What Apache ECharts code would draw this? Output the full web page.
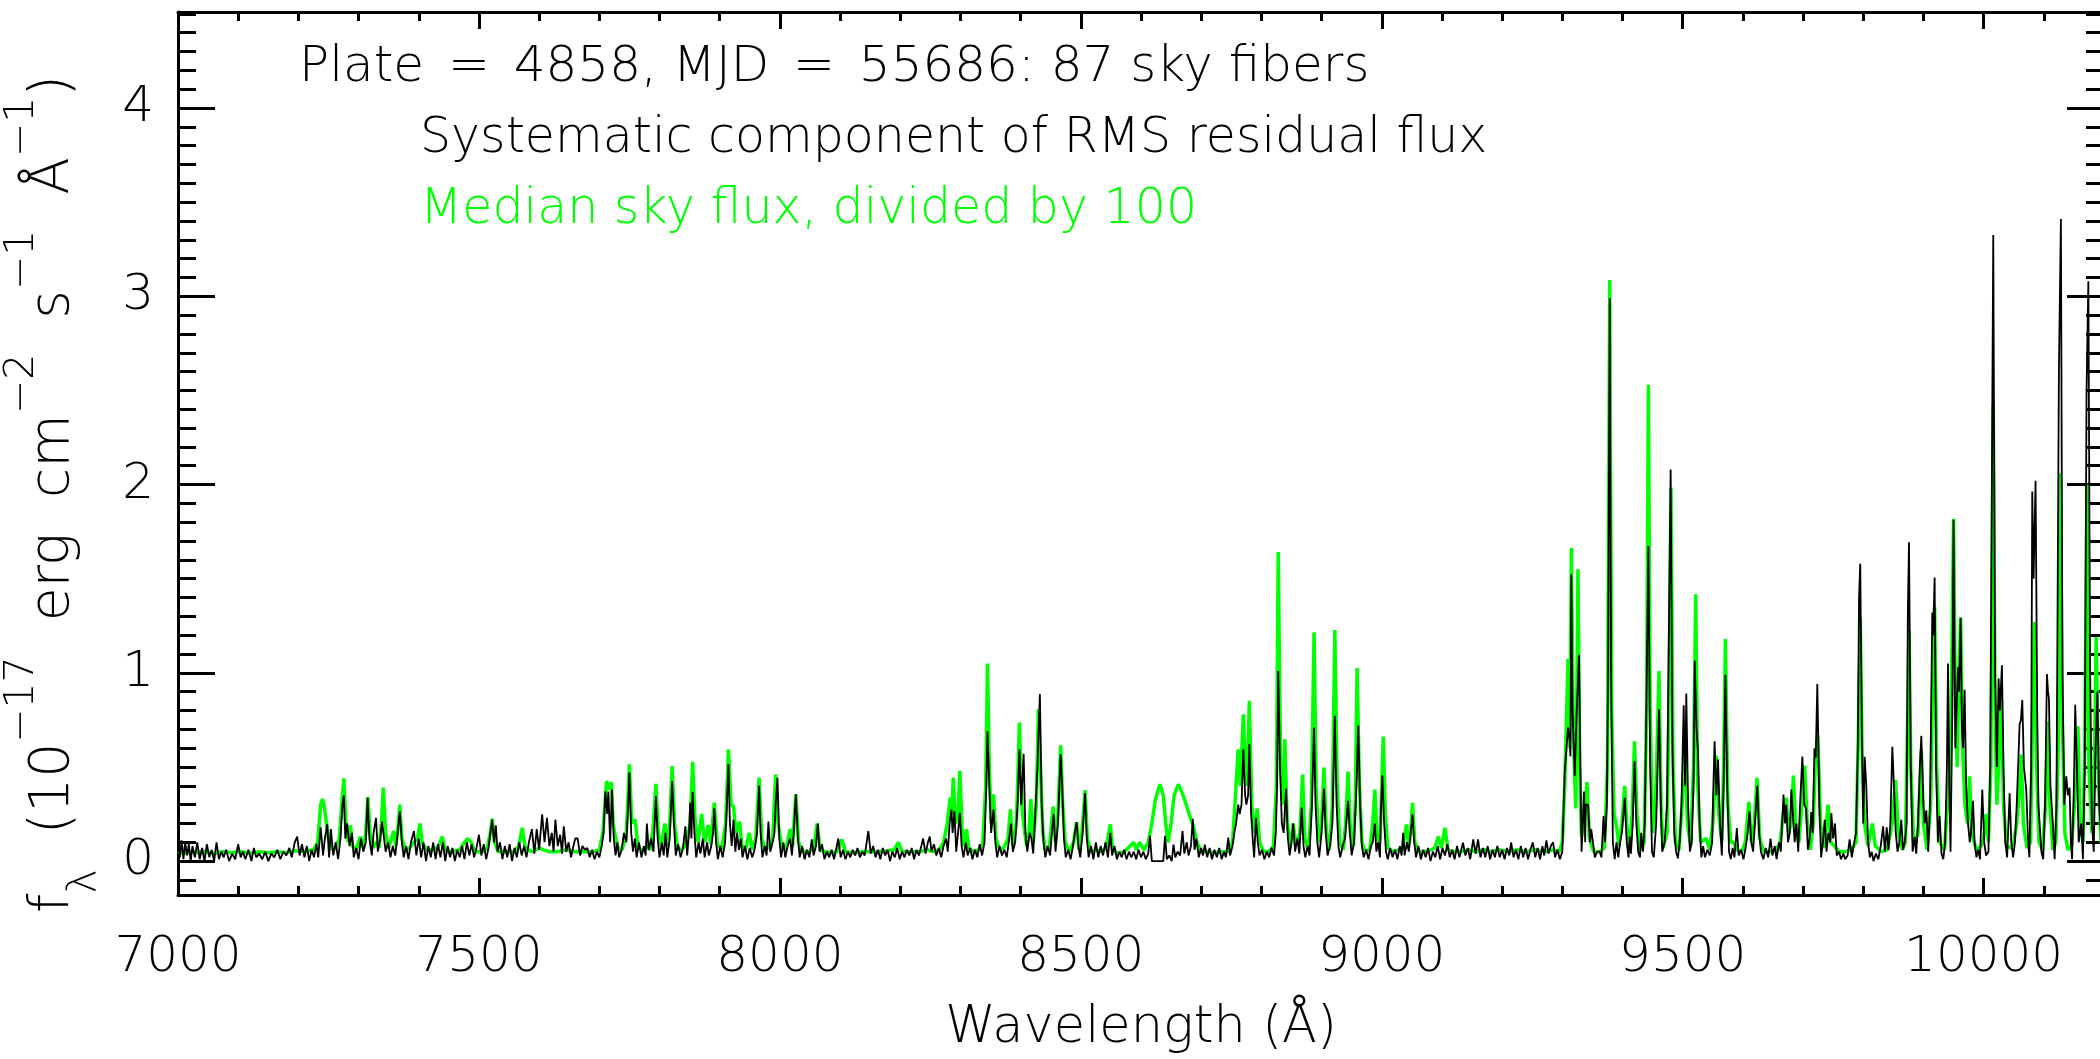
<!DOCTYPE html>
<html>
<head>
<meta charset="utf-8">
<title>Sky residuals, plate 4858</title>
<script src="https://cdn.jsdelivr.net/npm/echarts@6/dist/echarts.min.js"></script>
<style>
  html, body { margin: 0; padding: 0; background: #fff; }
  #chart { width: 2100px; height: 1059px; }
</style>
</head>
<body>
<div id="chart"></div>
<script>
// axis ranges and ticks
const X_MIN = 7000, X_MAX = 10200;
const Y_MIN = -0.18, Y_MAX = 4.51;
const xMajorTicks = [7000, 7500, 8000, 8500, 9000, 9500, 10000];
const yMajorTicks = [0, 1, 2, 3, 4];

// median sky flux / 100  [wavelength (A), flux]
const skyFlux = [
  [7000,0.05],[7010,0.04],[7020,0.05],[7030,0.045],[7045,0.05],[7060,0.04],[7075,0.05],[7090,0.045],[7105,0.05],[7120,0.04],
  [7135,0.05],[7150,0.045],[7165,0.05],[7180,0.045],[7195,0.055],[7210,0.05],[7225,0.06],[7232,0.1],[7237,0.3],[7240,0.33],
  [7243,0.29],[7246,0.3],[7250,0.12],[7256,0.06],[7262,0.07],[7268,0.12],[7272,0.3],[7275.5,0.44],[7279,0.2],[7283,0.1],
  [7286.5,0.19],[7290,0.08],[7296,0.06],[7303,0.13],[7308,0.07],[7312,0.15],[7315.5,0.34],[7319,0.15],[7324,0.07],[7329,0.1],
  [7334,0.07],[7338,0.2],[7341,0.39],[7345,0.15],[7350,0.07],[7358.5,0.16],[7362,0.08],[7366,0.2],[7368.5,0.3],[7372,0.12],
  [7378,0.06],[7385,0.07],[7392,0.1],[7398,0.12],[7402,0.2],[7406,0.09],[7414,0.06],[7425,0.06],[7433,0.08],[7439,0.13],
  [7444,0.06],[7455,0.05],[7468,0.06],[7476,0.1],[7481,0.12],[7487,0.1],[7494,0.05],[7505,0.05],[7514,0.07],[7519,0.15],
  [7522,0.225],[7526,0.1],[7532,0.05],[7545,0.05],[7558,0.05],[7566,0.08],[7572,0.177],[7577,0.07],[7588,0.05],[7600,0.07],
  [7607,0.06],[7618,0.05],[7630,0.05],[7645,0.06],[7660,0.05],[7675,0.05],[7690,0.05],[7700,0.06],[7706,0.15],[7712,0.425],
  [7716,0.38],[7720,0.42],[7723,0.2],[7726,0.14],[7731,0.07],[7738,0.06],[7745,0.15],[7750,0.514],[7754,0.2],[7759.5,0.22],
  [7764,0.08],[7772,0.05],[7779,0.08],[7785,0.06],[7790,0.2],[7794,0.41],[7798,0.15],[7803,0.08],[7809,0.2],[7813,0.08],
  [7817,0.2],[7821,0.505],[7825,0.2],[7830,0.07],[7838,0.06],[7845,0.1],[7851,0.2],[7855,0.527],[7859,0.22],[7864,0.1],
  [7870,0.25],[7875,0.1],[7881,0.19],[7885,0.09],[7891,0.31],[7896,0.09],[7903,0.06],[7910,0.2],[7914.5,0.594],[7919,0.3],
  [7923,0.29],[7927,0.15],[7933,0.21],[7937,0.08],[7943,0.06],[7949,0.15],[7954,0.06],[7960,0.12],[7965.5,0.443],[7970,0.12],
  [7976,0.06],[7982,0.08],[7988,0.12],[7993,0.46],[7997,0.2],[8003,0.08],[8010,0.06],[8017,0.17],[8021,0.08],[8026.5,0.355],
  [8031,0.1],[8038,0.05],[8048,0.05],[8056,0.06],[8062,0.2],[8067,0.06],[8075,0.05],[8085,0.045],[8095,0.05],[8103,0.115],
  [8109,0.05],[8120,0.045],[8135,0.05],[8150,0.05],[8165,0.05],[8180,0.055],[8190,0.06],[8197,0.1],[8203,0.05],[8215,0.05],
  [8230,0.05],[8245,0.06],[8255,0.05],[8265,0.06],[8272,0.1],[8278,0.2],[8283,0.337],[8286,0.25],[8288,0.443],[8292,0.2],
  [8296,0.25],[8299,0.479],[8303,0.15],[8306,0.08],[8310,0.17],[8314,0.07],[8322,0.05],[8330,0.06],[8337,0.09],[8342,0.4],
  [8345,1.05],[8348,0.5],[8351,0.2],[8355,0.355],[8359,0.12],[8365,0.06],[8372,0.07],[8379,0.12],[8383,0.275],[8387,0.08],
  [8393,0.2],[8398,0.736],[8402,0.3],[8405,0.2],[8410,0.08],[8414,0.15],[8417,0.33],[8421,0.1],[8426,0.3],[8429.5,0.807],
  [8433,0.5],[8437,0.15],[8441,0.06],[8448,0.08],[8454,0.29],[8458,0.1],[8462,0.25],[8466.5,0.615],[8470,0.3],[8474,0.1],
  [8481,0.05],[8488,0.1],[8493,0.207],[8497,0.06],[8502,0.15],[8507,0.377],[8511,0.12],[8517,0.05],[8525,0.06],[8533,0.05],
  [8542,0.07],[8549,0.195],[8553,0.06],[8562,0.04],[8572,0.05],[8582,0.08],[8588,0.1],[8592,0.06],[8598,0.1],[8605,0.06],
  [8612,0.1],[8618,0.2],[8624,0.33],[8631.5,0.408],[8637,0.35],[8641,0.2],[8645,0.1],[8650,0.2],[8655,0.35],[8662,0.408],
  [8666,0.38],[8670,0.35],[8676,0.29],[8681,0.24],[8687,0.185],[8693,0.1],[8700,0.05],[8710,0.05],[8722,0.045],[8735,0.05],
  [8745,0.05],[8752,0.1],[8757,0.35],[8761.5,0.594],[8765,0.4],[8770,0.78],[8774,0.4],[8777,0.5],[8780,0.852],[8784,0.3],
  [8788,0.15],[8793,0.28],[8797,0.1],[8804,0.05],[8812,0.05],[8820,0.08],[8825,0.4],[8828,1.642],[8832,0.5],[8836,0.3],
  [8839,0.647],[8843,0.2],[8848,0.08],[8853,0.2],[8857,0.08],[8864,0.15],[8868.5,0.46],[8872,0.12],[8878,0.06],[8883,0.3],
  [8887.5,1.216],[8891,0.4],[8895,0.1],[8900,0.2],[8904,0.497],[8908,0.15],[8913,0.06],[8918,0.3],[8922,1.228],[8926,0.4],
  [8930,0.1],[8936,0.06],[8940,0.2],[8944,0.475],[8948,0.15],[8953,0.08],[8956,0.3],[8959,1.026],[8963,0.4],[8967,0.1],
  [8973,0.05],[8980,0.06],[8985,0.2],[8988.5,0.38],[8992,0.12],[8997,0.1],[9000,0.4],[9002.5,0.662],[9006,0.25],[9010,0.07],
  [9018,0.05],[9028,0.06],[9035,0.07],[9041,0.195],[9045,0.08],[9048,0.15],[9051,0.31],[9055,0.1],[9062,0.05],[9072,0.05],
  [9082,0.06],[9088,0.07],[9094,0.13],[9099,0.07],[9105,0.177],[9110,0.06],[9120,0.05],[9132,0.05],[9145,0.06],[9158,0.05],
  [9170,0.06],[9182,0.05],[9195,0.06],[9210,0.05],[9225,0.06],[9240,0.05],[9255,0.06],[9270,0.05],[9285,0.06],[9295,0.05],
  [9300,0.1],[9304,0.4],[9309.5,1.074],[9312.5,0.6],[9315,1.663],[9318,0.8],[9320,0.5],[9322.3,0.28],[9324,0.8],[9326,1.55],
  [9329,0.5],[9331.7,0.13],[9336,0.2],[9341,0.42],[9345,0.12],[9352,0.05],[9362,0.05],[9370,0.07],[9375,0.5],[9378.8,3.086],
  [9382,0.8],[9386,0.25],[9390,0.186],[9394,0.08],[9399,0.2],[9403.7,0.4],[9407,0.2],[9412,0.06],[9416,0.25],[9420,0.636],
  [9424,0.25],[9429,0.06],[9436,0.1],[9440,0.8],[9443,2.53],[9446,0.8],[9450,0.15],[9455,0.3],[9460.7,1.01],[9464,0.3],
  [9467.4,0.07],[9474,0.15],[9477,0.8],[9480.6,1.984],[9484,0.5],[9488,0.1],[9494,0.06],[9499,0.3],[9503.4,0.59],[9508,0.2],
  [9513,0.08],[9518,0.5],[9521.6,1.417],[9525,0.4],[9530,0.1],[9539,0.12],[9545,0.06],[9550,0.2],[9556,0.56],[9560,0.25],
  [9565,0.1],[9568,0.5],[9571,1.18],[9575,0.3],[9580,0.1],[9584,0.1],[9590,0.06],[9598,0.05],[9604,0.1],[9610,0.315],
  [9614,0.1],[9619,0.2],[9623.5,0.443],[9628,0.12],[9635,0.05],[9645,0.05],[9655,0.06],[9662,0.1],[9667,0.25],[9672,0.336],
  [9676,0.15],[9680,0.2],[9684,0.454],[9688,0.15],[9693,0.1],[9698,0.3],[9702.6,0.507],[9707,0.2],[9712,0.06],[9717,0.2],
  [9720,0.5],[9724.5,0.668],[9729,0.2],[9735,0.07],[9741.5,0.3],[9746,0.1],[9752,0.08],[9760,0.05],[9770,0.05],[9780,0.06],
  [9788,0.1],[9792,0.7],[9795,1.293],[9798,0.6],[9802,0.2],[9808,0.08],[9815,0.2],[9820,0.08],[9830,0.05],[9840,0.06],
  [9848,0.2],[9853.8,0.43],[9858,0.15],[9865,0.06],[9870,0.1],[9873,0.6],[9876,1.23],[9879,0.5],[9884,0.08],[9891,0.15],
  [9896.5,0.59],[9900,0.2],[9906,0.06],[9912,0.3],[9915,0.9],[9918.6,1.35],[9922,0.5],[9927,0.1],[9935,0.06],[9940,0.3],
  [9944,0.5],[9947,1.0],[9950,1.818],[9953,0.9],[9956,0.5],[9959,1.0],[9961.8,1.293],[9965,0.6],[9969,0.3],[9973,0.2],
  [9976.7,0.45],[9980,0.15],[9988,0.06],[9996,0.08],[10000,0.12],[10004.4,0.25],[10008,0.1],[10012,0.5],[10016,2.418],[10019,0.8],
  [10022,0.3],[10025,0.5],[10029.3,0.866],[10033,0.3],[10038,0.08],[10045,0.07],[10050,0.1],[10055,0.2],[10059,0.35],[10062.5,0.566],
  [10066,0.2],[10072,0.07],[10078,0.1],[10081,0.7],[10084.7,1.27],[10088,0.5],[10092,0.1],[10098,0.06],[10103,0.3],[10106.8,0.74],
  [10110,0.3],[10115,0.06],[10120,0.1],[10124,0.6],[10127.3,2.06],[10131,0.7],[10135,0.15],[10140,0.06],[10146,0.08],[10151,0.3],
  [10156.7,0.716],[10160,0.2],[10165,0.1],[10168,0.6],[10171.6,2.0],[10175,0.5],[10180,0.15],[10184,0.5],[10187,1.19],[10191,0.4],
  [10195,0.1],[10200,0.08]
];

// systematic component of RMS residual flux  [wavelength (A), flux]
const rmsFlux = [
  [7000,0.1],[7003,0.02],[7006,0.11],[7009,0.01],[7012,0.1],[7015,0.03],[7018,0.09],[7021,0.0],[7024,0.08],[7028,0.02],
  [7032,0.1],[7036,0.01],[7040,0.07],[7044,0.0],[7048,0.09],[7052,0.02],[7056,0.06],[7060,0.0],[7064,0.1],[7068,0.01],
  [7072,0.05],[7076,0.02],[7080,0.06],[7085,0.0],[7090,0.04],[7095,0.01],[7100,0.09],[7104,0.02],[7108,0.05],[7112,0.01],
  [7117,0.06],[7122,0.0],[7126,0.07],[7130,0.02],[7135,0.04],[7140,0.01],[7145,0.05],[7150,0.0],[7155,0.04],[7160,0.02],
  [7165,0.06],[7170,0.01],[7175,0.05],[7180,0.03],[7185,0.07],[7189,0.02],[7194,0.1],[7198,0.13],[7202,0.03],[7206,0.09],
  [7210,0.02],[7214,0.08],[7218,0.0],[7222,0.06],[7226,0.02],[7230,0.09],[7233,0.02],[7237,0.18],[7241,0.03],[7244,0.12],
  [7248,0.195],[7251,0.02],[7254,0.17],[7258,0.03],[7262,0.1],[7266,0.01],[7270,0.12],[7273,0.29],[7275.5,0.35],[7278,0.12],
  [7281,0.2],[7285,0.08],[7289,0.15],[7292,0.02],[7296,0.07],[7300,0.01],[7304,0.12],[7308,0.05],[7312,0.1],[7315,0.337],
  [7318,0.12],[7322,0.03],[7325,0.15],[7329,0.23],[7332,0.05],[7336,0.12],[7339,0.21],[7342,0.2],[7345,0.05],[7349,0.1],
  [7353,0.02],[7357,0.08],[7361,0.03],[7365,0.15],[7368.5,0.265],[7372,0.1],[7375,0.02],[7379,0.08],[7383,0.01],[7387,0.1],
  [7392,0.16],[7396,0.03],[7400,0.12],[7404,0.02],[7408,0.1],[7412,0.0],[7416,0.08],[7420,0.02],[7424,0.1],[7428,0.01],
  [7432,0.09],[7436,0.02],[7440,0.1],[7444,0.0],[7448,0.08],[7452,0.02],[7456,0.07],[7460,0.0],[7464,0.06],[7468,0.02],
  [7472,0.08],[7476,0.01],[7480,0.1],[7484,0.03],[7488,0.09],[7492,0.02],[7496,0.07],[7500,0.14],[7504,0.03],[7508,0.09],
  [7512,0.01],[7516,0.07],[7519,0.15],[7522,0.22],[7525,0.1],[7528,0.19],[7531,0.05],[7535,0.1],[7539,0.01],[7543,0.08],
  [7547,0.02],[7551,0.09],[7555,0.0],[7559,0.07],[7563,0.02],[7567,0.1],[7571,0.03],[7575,0.08],[7579,0.02],[7583,0.1],
  [7588,0.17],[7592,0.04],[7596,0.17],[7600,0.06],[7605,0.248],[7609,0.1],[7613,0.23],[7617,0.08],[7621,0.15],[7624,0.05],
  [7627,0.22],[7631,0.08],[7635,0.14],[7638,0.04],[7641,0.185],[7645,0.05],[7649,0.1],[7653,0.02],[7657,0.08],[7660,0.12],
  [7664,0.12],[7668,0.03],[7672,0.08],[7676,0.06],[7680,0.07],[7684,0.02],[7688,0.06],[7692,0.01],[7696,0.05],[7700,0.02],
  [7704,0.08],[7707,0.15],[7710,0.37],[7713,0.25],[7715,0.37],[7718,0.1],[7721,0.38],[7724,0.12],[7727,0.03],[7730,0.1],
  [7733,0.02],[7737,0.06],[7741,0.15],[7745,0.1],[7748,0.3],[7750,0.47],[7753,0.15],[7756,0.05],[7759,0.12],[7762,0.02],
  [7766,0.1],[7770,0.02],[7774,0.08],[7777,0.03],[7779,0.2],[7782,0.06],[7786,0.12],[7790,0.05],[7794,0.345],[7797,0.12],
  [7800,0.02],[7804,0.1],[7807,0.03],[7810,0.15],[7813,0.02],[7817,0.12],[7821,0.425],[7824,0.2],[7827,0.03],[7831,0.09],
  [7835,0.02],[7839,0.07],[7843,0.185],[7846,0.03],[7849,0.15],[7851,0.31],[7853,0.12],[7855,0.367],[7858,0.15],[7861,0.02],
  [7865,0.1],[7868,0.04],[7872,0.12],[7875,0.02],[7879,0.1],[7882,0.03],[7886,0.08],[7889,0.15],[7891,0.28],[7894,0.1],
  [7897,0.01],[7901,0.08],[7905,0.02],[7909,0.1],[7912,0.3],[7914.5,0.515],[7917,0.2],[7920,0.08],[7923,0.22],[7926,0.05],
  [7929,0.15],[7932,0.06],[7935,0.12],[7938,0.02],[7942,0.08],[7946,0.01],[7950,0.07],[7954,0.02],[7958,0.06],[7962,0.15],
  [7965.5,0.4],[7968,0.15],[7971,0.02],[7975,0.08],[7978,0.03],[7981,0.21],[7984,0.05],[7988,0.1],[7991,0.15],[7993,0.3],
  [7996,0.443],[7999,0.12],[8002,0.02],[8006,0.1],[8009,0.02],[8013,0.08],[8017,0.12],[8020,0.03],[8023,0.15],[8026.5,0.355],
  [8030,0.12],[8033,0.02],[8037,0.08],[8041,0.01],[8045,0.06],[8049,0.02],[8053,0.115],[8056,0.03],[8060,0.08],[8063,0.2],
  [8066,0.05],[8070,0.09],[8074,0.01],[8078,0.05],[8082,0.02],[8086,0.06],[8090,0.01],[8094,0.07],[8097,0.12],[8101,0.02],
  [8105,0.06],[8109,0.01],[8113,0.05],[8117,0.02],[8121,0.06],[8125,0.03],[8129,0.07],[8133,0.02],[8137,0.05],[8141,0.03],
  [8147,0.16],[8151,0.04],[8155,0.08],[8159,0.02],[8163,0.06],[8167,0.01],[8171,0.07],[8175,0.03],[8179,0.06],[8183,0.0],
  [8187,0.05],[8191,0.02],[8195,0.07],[8199,0.01],[8203,0.05],[8207,0.02],[8211,0.06],[8215,0.03],[8219,0.07],[8223,0.01],
  [8227,0.06],[8231,0.03],[8235,0.08],[8238,0.12],[8242,0.04],[8246,0.1],[8249,0.13],[8252,0.05],[8256,0.09],[8260,0.03],
  [8264,0.07],[8268,0.02],[8272,0.08],[8276,0.12],[8279,0.05],[8282,0.2],[8285,0.275],[8287,0.15],[8290,0.265],[8293,0.05],
  [8296,0.15],[8299,0.257],[8302,0.08],[8305,0.02],[8309,0.1],[8312,0.03],[8316,0.07],[8320,0.01],[8324,0.06],[8328,0.02],
  [8332,0.09],[8336,0.03],[8340,0.1],[8343,0.4],[8345,0.69],[8348,0.4],[8351,0.15],[8355,0.275],[8358,0.1],[8361,0.02],
  [8365,0.08],[8369,0.03],[8373,0.06],[8377,0.02],[8381,0.12],[8384,0.2],[8387,0.05],[8391,0.1],[8395,0.3],[8398,0.594],
  [8401,0.3],[8405,0.57],[8408,0.15],[8411,0.05],[8415,0.15],[8418,0.12],[8421,0.04],[8425,0.3],[8428,0.5],[8430,0.7],
  [8432,0.887],[8435,0.3],[8438,0.1],[8441,0.02],[8445,0.08],[8449,0.03],[8452,0.15],[8455,0.25],[8458,0.05],[8462,0.2],
  [8465,0.45],[8466.5,0.568],[8469,0.4],[8472,0.12],[8475,0.02],[8479,0.06],[8483,0.01],[8487,0.08],[8490,0.15],[8493,0.207],
  [8496,0.08],[8499,0.02],[8503,0.15],[8507,0.36],[8510,0.12],[8513,0.02],[8517,0.08],[8521,0.01],[8525,0.1],[8529,0.02],
  [8533,0.08],[8537,0.03],[8541,0.1],[8545,0.02],[8549,0.15],[8552,0.03],[8556,0.08],[8560,0.01],[8564,0.05],[8568,0.02],
  [8572,0.06],[8576,0.01],[8580,0.05],[8584,0.02],[8588,0.05],[8592,0.01],[8596,0.06],[8600,0.02],[8604,0.05],[8608,0.01],
  [8612,0.04],[8615,0.135],[8618,0.0],[8625,0.0],[8632,0.0],[8637,0.0],[8640,0.135],[8643,0.01],[8647,0.03],[8651,0.0],
  [8654,0.088],[8657,0.02],[8661,0.05],[8665,0.03],[8669,0.16],[8672,0.04],[8676,0.1],[8679,0.03],[8683,0.08],[8686,0.225],
  [8689,0.06],[8692,0.12],[8696,0.02],[8700,0.07],[8703,0.03],[8706,0.088],[8710,0.02],[8714,0.07],[8718,0.01],[8722,0.06],
  [8726,0.02],[8730,0.07],[8734,0.01],[8738,0.05],[8741,0.02],[8745,0.125],[8748,0.03],[8752,0.08],[8755,0.15],[8758,0.2],
  [8761.5,0.3],[8764,0.25],[8767,0.3],[8770,0.594],[8773,0.35],[8775,0.3],[8778,0.35],[8780,0.62],[8783,0.25],[8786,0.1],
  [8788,0.02],[8791,0.23],[8794,0.1],[8797,0.03],[8801,0.06],[8805,0.01],[8809,0.05],[8813,0.02],[8817,0.07],[8821,0.03],
  [8824,0.15],[8826,0.4],[8828,1.01],[8831,0.5],[8834,0.2],[8837,0.15],[8841,0.385],[8844,0.12],[8847,0.03],[8850,0.1],
  [8853,0.2],[8856,0.05],[8860,0.12],[8863,0.04],[8867,0.285],[8870,0.08],[8873,0.02],[8877,0.08],[8880,0.03],[8884,0.3],
  [8887.5,0.71],[8890,0.3],[8893,0.1],[8896,0.02],[8900,0.15],[8904,0.385],[8907,0.15],[8910,0.03],[8914,0.08],[8918,0.2],
  [8922,0.772],[8925,0.3],[8928,0.08],[8931,0.02],[8935,0.08],[8939,0.12],[8944,0.32],[8947,0.15],[8950,0.03],[8954,0.1],
  [8958,0.4],[8961,0.72],[8964,0.3],[8967,0.08],[8970,0.02],[8974,0.06],[8978,0.01],[8982,0.08],[8985,0.1],[8988.5,0.2],
  [8991,0.05],[8994,0.1],[8997,0.02],[8999,0.3],[9001,0.456],[9004,0.2],[9007,0.05],[9010,0.01],[9014,0.07],[9018,0.02],
  [9022,0.06],[9026,0.01],[9030,0.08],[9033,0.03],[9035.6,0.15],[9038,0.03],[9042,0.1],[9045,0.05],[9048,0.15],[9051,0.248],
  [9054,0.1],[9057,0.02],[9061,0.08],[9065,0.01],[9069,0.06],[9073,0.02],[9077,0.07],[9081,0.0],[9085,0.05],[9089,0.02],
  [9093,0.08],[9097,0.01],[9101,0.07],[9105,0.03],[9109,0.09],[9113,0.02],[9117,0.06],[9121,0.01],[9125,0.08],[9129,0.02],
  [9135,0.098],[9139,0.03],[9143,0.07],[9147,0.01],[9152,0.115],[9156,0.04],[9160,0.115],[9164,0.02],[9168,0.07],[9172,0.02],
  [9176,0.08],[9180,0.01],[9184,0.06],[9188,0.02],[9192,0.08],[9196,0.02],[9200,0.06],[9204,0.01],[9208,0.07],[9212,0.03],
  [9215,0.1],[9219,0.02],[9223,0.06],[9227,0.01],[9231,0.08],[9235,0.02],[9239,0.07],[9243,0.01],[9247,0.06],[9251,0.1],
  [9255,0.02],[9259,0.07],[9263,0.01],[9267,0.08],[9270,0.03],[9273.6,0.11],[9277,0.04],[9281,0.08],[9284.7,0.1],[9288,0.02],
  [9292,0.06],[9296,0.01],[9300,0.05],[9304,0.475],[9307,0.6],[9309.5,0.71],[9312,0.65],[9313.5,0.556],[9315,1.524],[9317,0.8],
  [9320.6,0.454],[9324,0.8],[9327.8,1.096],[9330,0.5],[9332,0.05],[9334,0.2],[9336,0.37],[9338,0.1],[9339,0.3],[9342.8,0.3],
  [9346,0.1],[9348,0.17],[9351,0.1],[9354,0.02],[9358,0.05],[9362,0.05],[9365,0.02],[9368.5,0.24],[9371,0.1],[9374,0.3],
  [9376,1.0],[9378.8,2.99],[9381,1.0],[9384,0.1],[9387,0.01],[9390,0.1],[9393,0.02],[9396,0.1],[9399,0.15],[9403.7,0.336],
  [9407,0.1],[9410,0.02],[9412,0.13],[9414,0.04],[9417,0.2],[9420,0.53],[9423,0.2],[9426,0.05],[9429,0.02],[9431,0.15],
  [9434,0.05],[9437,0.2],[9440,0.9],[9443,1.673],[9446,0.5],[9449,0.05],[9452,0.02],[9456,0.2],[9460.7,0.807],[9464,0.25],
  [9466,0.05],[9470,0.1],[9474,0.3],[9477,1.2],[9480,2.08],[9483,0.6],[9486,0.15],[9489,0.05],[9492,0.015],[9495,0.1],
  [9498,0.3],[9501.7,0.828],[9504,0.4],[9506,0.89],[9509,0.3],[9512,0.05],[9515,0.1],[9518,0.4],[9520,1.064],[9523,0.7],
  [9525.5,0.58],[9528,0.2],[9531,0.02],[9534,0.08],[9537,0.02],[9541,0.06],[9545,0.03],[9549,0.1],[9551,0.4],[9553,0.636],
  [9556,0.35],[9558.7,0.54],[9562,0.2],[9565,0.03],[9568,0.4],[9571,0.99],[9574,0.4],[9577,0.05],[9580,0.01],[9583,0.07],
  [9586,0.02],[9590,0.176],[9593,0.03],[9597,0.06],[9601,0.01],[9605,0.08],[9608,0.15],[9611,0.265],[9614,0.1],[9617,0.05],
  [9620,0.2],[9624,0.4],[9627,0.15],[9630,0.05],[9634,0.01],[9638,0.07],[9642,0.02],[9646,0.12],[9649,0.03],[9653,0.08],
  [9656,0.01],[9660,0.1],[9663,0.05],[9667.5,0.354],[9670,0.2],[9672,0.3],[9675,0.1],[9678,0.15],[9680.5,0.38],[9683,0.25],
  [9686,0.1],[9689,0.2],[9692,0.05],[9695,0.3],[9698.8,0.555],[9702,0.3],[9705,0.28],[9708,0.06],[9711,0.12],[9713.7,0.26],
  [9716,0.15],[9719,0.6],[9721,0.55],[9723.7,0.94],[9727,0.3],[9730,0.02],[9733,0.1],[9736,0.22],[9739,0.05],[9742,0.15],
  [9745,0.1],[9747,0.255],[9750,0.12],[9753,0.2],[9756,0.03],[9760,0.05],[9763,0.01],[9767,0.04],[9770,0.01],[9774,0.03],
  [9777.4,0.115],[9781,0.02],[9785,0.1],[9788,0.15],[9791,0.6],[9793,1.4],[9795,1.58],[9798,0.6],[9800,0.2],[9802.4,0.554],
  [9805,0.4],[9808,0.1],[9811,0.02],[9814,0.05],[9817,0.0],[9821,0.04],[9825,0.01],[9829,0.08],[9833,0.185],[9836,0.05],
  [9839,0.18],[9842,0.06],[9845,0.2],[9848.3,0.607],[9851,0.4],[9854,0.15],[9857,0.05],[9860,0.1],[9863.2,0.22],[9866,0.06],
  [9869,0.1],[9872,0.2],[9874,1.3],[9876,1.693],[9879,0.5],[9882,0.05],[9885.4,0.127],[9888,0.04],[9891,0.2],[9894,0.5],
  [9896.5,0.665],[9900,0.3],[9902,0.2],[9904.8,0.27],[9908,0.05],[9911,0.3],[9914.7,1.32],[9916,1.2],[9918.6,1.506],[9921,0.5],
  [9924,0.1],[9926.9,0.24],[9930,0.04],[9933,0.01],[9936,0.1],[9939,0.5],[9940.8,1.05],[9943,0.4],[9945,0.05],[9948,0.8],
  [9950,1.813],[9953,0.6],[9955,0.8],[9957.4,1.03],[9959,0.9],[9961.8,1.293],[9964,0.7],[9966,0.6],[9968.4,0.91],[9971,0.4],
  [9974,0.2],[9977,0.1],[9979,0.15],[9982.3,0.32],[9985,0.1],[9988,0.02],[9991,0.06],[9994,0.01],[9997.8,0.38],[10001,0.1],
  [10004,0.03],[10008,0.05],[10011,0.5],[10013,1.6],[10016,3.325],[10019,1.0],[10022,0.5],[10024.9,0.97],[10027,0.8],[10030.4,1.04],
  [10033,0.5],[10036,0.1],[10039,0.02],[10043.2,0.36],[10046,0.1],[10049,0.02],[10052,0.1],[10055,0.3],[10059.8,0.727],[10062,0.75],
  [10064.2,0.855],[10067,0.5],[10070.8,0.38],[10074,0.1],[10076,0.02],[10079,0.5],[10080.8,1.963],[10083,1.5],[10086.3,2.02],[10089,0.8],
  [10091,0.3],[10093,0.29],[10096,0.05],[10099,0.01],[10102,0.3],[10105.2,0.993],[10107,0.9],[10108.5,0.866],[10111,0.4],[10115,0.2],
  [10118,0.01],[10121,0.3],[10125.1,2.61],[10128.4,3.41],[10131,1.0],[10134,0.3],[10137.3,0.45],[10140,0.35],[10142.8,0.39],[10145,0.1],
  [10147,0.01],[10150,0.4],[10152.2,0.83],[10155,0.5],[10158,0.1],[10162.2,0.2],[10165,0.01],[10168,0.5],[10171,2.5],[10174,3.08],
  [10177,1.0],[10180,0.2],[10183,0.05],[10186,0.6],[10189,0.9],[10192,0.3],[10196,0.1],[10200,0.08]
];

const FONT = '"DejaVu Sans"';
const FONT_W = 200;
const AXIS_W = 3;

// minor tick positions (every 100 A, every 0.1)
const xMinorTicks = [];
for (let w = 7100; w < X_MAX; w += 100) xMinorTicks.push(w);
const yMinorTicks = [];
for (let k = -1; k <= 45; k++) yMinorTicks.push(k / 10);

const plainNumber = v => String(Math.round(v));

function xAxisDef(pos, ticks, len, withLabels, withLine) {
  const ax = {
    type: 'value', position: pos, min: X_MIN, max: X_MAX,
    axisLine: { show: withLine, onZero: false, lineStyle: { color: '#000', width: AXIS_W } },
    axisTick: { show: true, inside: true, length: len, customValues: ticks,
                lineStyle: { color: '#000', width: AXIS_W } },
    axisLabel: { show: false },
    splitLine: { show: false }
  };
  if (withLabels) {
    ax.axisLabel = { show: true, customValues: ticks, margin: 38, color: '#000', formatter: plainNumber,
                     fontFamily: FONT, fontWeight: FONT_W, fontSize: 50 };
    ax.name = 'Wavelength (Å)';
    ax.nameLocation = 'middle';
    ax.nameGap = 108;
    ax.nameTextStyle = { color: '#000', fontFamily: FONT, fontWeight: FONT_W, fontSize: 51 };
  }
  return ax;
}

function yAxisDef(pos, ticks, len, withLabels, withLine) {
  return {
    type: 'value', position: pos, min: Y_MIN, max: Y_MAX,
    axisLine: { show: withLine, onZero: false, lineStyle: { color: '#000', width: AXIS_W } },
    axisTick: { show: true, inside: true, length: len, customValues: ticks,
                lineStyle: { color: '#000', width: AXIS_W } },
    axisLabel: withLabels
      ? { show: true, customValues: ticks, margin: 24, color: '#000', formatter: plainNumber,
          fontFamily: FONT, fontWeight: FONT_W, fontSize: 50 }
      : { show: false },
    splitLine: { show: false }
  };
}

const chart = echarts.init(document.getElementById('chart'), null, { renderer: 'canvas' });

const headFont = FONT_W + ' 50px ' + FONT;
const richBase = { fontSize: 50, fontFamily: 'DejaVu Sans', fontWeight: FONT_W };

const option = {
  backgroundColor: '#fff',
  animation: false,
  grid: { left: 178, top: 12, width: 1926, height: 883, containLabel: false, outerBoundsMode: 'none' },
  xAxis: [
    xAxisDef('bottom', xMajorTicks, 17, true, true),
    xAxisDef('bottom', xMinorTicks, 9, false, false),
    xAxisDef('top', xMajorTicks, 17, false, true),
    xAxisDef('top', xMinorTicks, 9, false, false)
  ],
  yAxis: [
    yAxisDef('left', yMajorTicks, 37, true, true),
    yAxisDef('left', yMinorTicks, 18, false, false),
    yAxisDef('right', yMajorTicks, 37, false, true),
    yAxisDef('right', yMinorTicks, 18, false, false)
  ],
  graphic: [
    { type: 'text', x: 299, y: 68, silent: true,
      style: { text: 'Plate {e|=} 4858, MJD {e|=} 55686: 87 sky fibers', fill: '#000',
               font: headFont, textAlign: 'left', textVerticalAlign: 'middle', verticalAlign: 'middle',
               rich: { e: Object.assign({ padding: [0, 8, 0, 8], color: '#000' }, richBase) } } },
    { type: 'text', x: 420, y: 139, silent: true,
      style: { text: 'Systematic component of RMS residual flux', fill: '#000',
               font: FONT_W + ' 49px ' + FONT, textAlign: 'left', textVerticalAlign: 'middle', verticalAlign: 'middle' } },
    { type: 'text', x: 420, y: 210, silent: true,
      style: { text: 'Median sky flux, divided by 100', fill: '#00ff00',
               font: FONT_W + ' 49px ' + FONT, textAlign: 'left', textVerticalAlign: 'middle', verticalAlign: 'middle' } },
    { type: 'text', x: 54, y: 494, rotation: Math.PI / 2, silent: true,
      style: {
        text: '{m|f}{sub|λ}{m|  (10}{sup|−17}{m|  erg  cm}{sup|−2}{m|  s}{sup|−1}{m|  Å}{sup|−1}{m|)}',
        textAlign: 'center', textVerticalAlign: 'middle', align: 'center', verticalAlign: 'middle',
        rich: {
          m:   { fontSize: 55, fontFamily: 'DejaVu Sans', fontWeight: FONT_W, color: '#000', lineHeight: 104, verticalAlign: 'middle' },
          sup: { fontSize: 41, fontFamily: 'DejaVu Sans', fontWeight: FONT_W, color: '#000', lineHeight: 42, verticalAlign: 'top' },
          sub: { fontSize: 41, fontFamily: 'DejaVu Sans', fontWeight: FONT_W, color: '#000', lineHeight: 64, verticalAlign: 'bottom' }
        }
      } }
  ],
  series: [
    { name: 'Median sky flux, divided by 100', type: 'line', xAxisIndex: 0, yAxisIndex: 0,
      data: skyFlux, symbol: 'none', showSymbol: false, silent: true, z: 2,
      lineStyle: { color: '#00ff00', width: 3.5 } },
    { name: 'Systematic component of RMS residual flux', type: 'line', xAxisIndex: 0, yAxisIndex: 0,
      data: rmsFlux, symbol: 'none', showSymbol: false, silent: true, z: 3,
      lineStyle: { color: '#000000', width: 1.8 } }
  ]
};

chart.setOption(option);
</script>
</body>
</html>
